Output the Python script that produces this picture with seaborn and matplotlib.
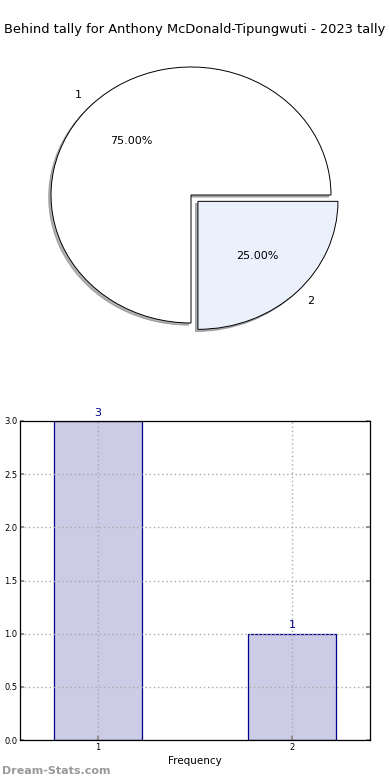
import matplotlib
matplotlib.use("Agg")
import matplotlib.pyplot as plt
import seaborn as sns
import pandas as pd

categories = ["1", "2"]
counts = [3, 1]
pie_colors = ["#ffffff", "#eaf0fc"]
title = "Behind tally for Anthony McDonald-Tipungwuti - 2023 tally"

sns.set_theme(style="white", rc={"text.color": "black", "xtick.color": "black",
                                 "ytick.color": "black", "axes.labelcolor": "black"})
plt.rcParams["font.family"] = ["DejaVu Sans"]

fig = plt.figure(figsize=(3.9, 7.8), dpi=100)

# Pie
ax1 = fig.add_axes([16/390, 1-355/780, 350/390, 320/780])
wedges, texts, autotexts = ax1.pie(
    counts, labels=categories, colors=pie_colors, autopct="%.2f%%",
    startangle=0, counterclock=True, explode=[0, 0.07],
    shadow={"ox": -0.012, "oy": -0.012, "shade": 0.6},
    wedgeprops=dict(edgecolor="black", linewidth=0.7),
    textprops=dict(fontsize=8, color="black"))
ax1.set_aspect("auto")
ax1.set_xlim(-1.25, 1.25)
ax1.set_ylim(-1.25, 1.25)
ax1.axis("off")
fig.text(0.5, 1-30/780, title, ha="center", va="center", fontsize=9.4, color="black")

# Bar
ax2 = fig.add_axes([20/390, 40/780, 350/390, 319/780])
df = pd.DataFrame({"cat": categories, "count": counts})
sns.barplot(data=df, x="cat", y="count", ax=ax2, color="#cccce6",
            edgecolor="#00008b", linewidth=0.9, width=0.45, saturation=1)
ax2.set_xlim(-0.4, 1.4)
ax2.set_ylim(0, 3.0)
ax2.set_yticks([0, 0.5, 1.0, 1.5, 2.0, 2.5, 3.0])
ax2.set_yticklabels([f"{v:.1f}" for v in [0, 0.5, 1.0, 1.5, 2.0, 2.5, 3.0]])
ax2.grid(True, linestyle=(0, (1, 2)), color="#aaaaaa", linewidth=1.0)
ax2.set_axisbelow(False)
ax2.tick_params(axis="both", labelsize=6, direction="in", length=3,
                color="#888888", right=True, top=False, left=True, bottom=True, pad=2)
for s in ax2.spines.values():
    s.set_color("black")
    s.set_linewidth(0.9)
    s.set_zorder(5)
ax2.set_xlabel("Frequency", fontsize=7.5, labelpad=3)
ax2.set_ylabel("")
for i, v in enumerate(counts):
    ax2.text(i, v + 0.03, str(v), ha="center", va="bottom", fontsize=8, color="#00008b")

fig.text(2/390, 1-771/780, "Dream-Stats.com", fontsize=8, color="#999999",
         fontweight="bold", ha="left", va="center")

fig.savefig("out.png", dpi=100)
